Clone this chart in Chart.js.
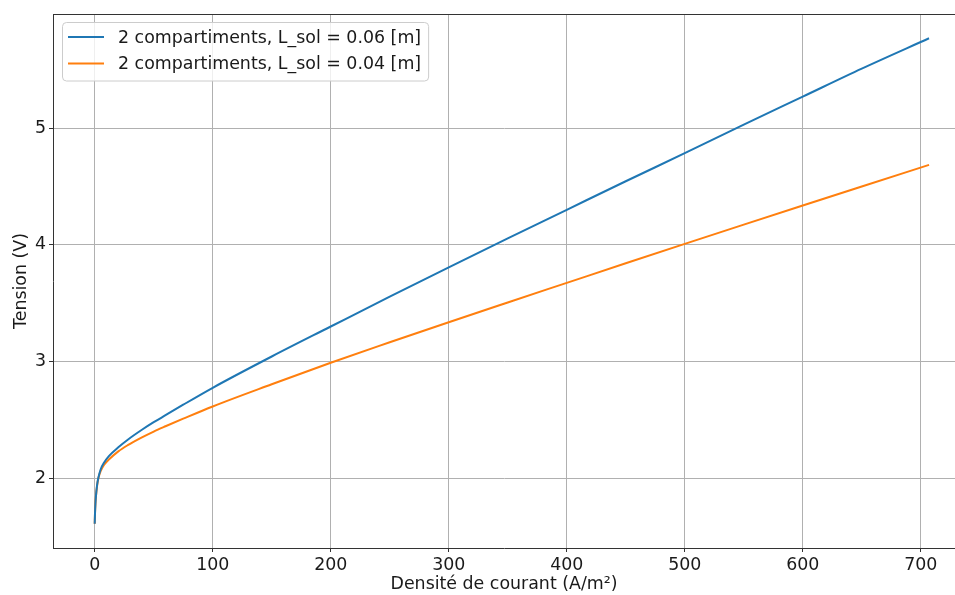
<!DOCTYPE html>
<html>
<head>
<meta charset="utf-8">
<script src="https://cdn.jsdelivr.net/npm/chart.js@4"></script>
<style>
    html, body { margin: 0; padding: 0; background: #ffffff; }
    #wrap { width: 955px; height: 595px; position: relative; }
</style>
</head>
<body>
<div id="wrap"><canvas id="chart"></canvas></div>
<script>
// Valeurs
const current = [0, 0.25, 0.6, 1, 2, 3, 5, 8, 12, 20, 28, 40, 50, 60, 75, 100, 150, 200, 250, 300, 350, 400, 450, 500, 550, 600, 650, 707];
const voltage06 = [1.61, 1.70, 1.78, 1.84, 1.94, 2.00, 2.075, 2.135, 2.19, 2.265, 2.33, 2.415, 2.48, 2.54, 2.63, 2.775, 3.043, 3.30, 3.556, 3.807, 4.055, 4.30, 4.545, 4.785, 5.03, 5.27, 5.51, 5.77];
const voltage04 = [1.61, 1.70, 1.78, 1.84, 1.935, 1.995, 2.06, 2.115, 2.16, 2.23, 2.283, 2.35, 2.40, 2.445, 2.51, 2.615, 2.805, 2.99, 3.165, 3.337, 3.506, 3.674, 3.842, 4.008, 4.173, 4.337, 4.50, 4.685];
const seriesLabels = ['2 compartiments, L_sol = 0.06 [m]', '2 compartiments, L_sol = 0.04 [m]'];
const xTicks = [0, 100, 200, 300, 400, 500, 600, 700];
const yTicks = [2, 3, 4, 5];

const FONT = 'DejaVu Sans';
const FS = 17.4;

// legende et cadre du haut, a la maniere de matplotlib
const framePlugin = {
    id: 'framePlugin',
    afterDraw(chart) {
        const ctx = chart.ctx;
        const area = chart.chartArea;
        ctx.save();
        ctx.strokeStyle = '#333333';
        ctx.lineWidth = 1;
        ctx.beginPath();
        ctx.moveTo(area.left, area.top + 0.5);
        ctx.lineTo(area.right, area.top + 0.5);
        ctx.stroke();

        ctx.font = FS + 'px "' + FONT + '"';
        const sets = chart.data.datasets;
        const textW = Math.max(...sets.map(d => ctx.measureText(d.label).width));
        const x0 = 62.5, y0 = 22.5, rowH = 26.5;
        const w = 55 + textW + 8, h = 58.5;
        ctx.beginPath();
        ctx.roundRect(x0, y0, w, h, 4);
        ctx.fillStyle = 'rgba(255,255,255,0.8)';
        ctx.fill();
        ctx.strokeStyle = '#cccccc';
        ctx.stroke();
        sets.forEach((d, i) => {
            const y = 37 + i * rowH;
            ctx.strokeStyle = d.borderColor;
            ctx.lineWidth = 2;
            ctx.beginPath();
            ctx.moveTo(68, y);
            ctx.lineTo(104, y);
            ctx.stroke();
            ctx.fillStyle = '#1a1a1a';
            ctx.textBaseline = 'middle';
            ctx.fillText(d.label, 118, y + 1);
        });
        ctx.restore();
    }
};

const ctx = document.getElementById('chart').getContext('2d');
new Chart(ctx, {
    type: 'line',
    data: {
        datasets: [{
            label: seriesLabels[0],
            data: current.map((x, i) => ({ x: x, y: voltage06[i] })),
            borderColor: '#1f77b4',
            borderWidth: 2,
            pointRadius: 0,
            cubicInterpolationMode: 'monotone',
            fill: false
        }, {
            label: seriesLabels[1],
            data: current.map((x, i) => ({ x: x, y: voltage04[i] })),
            borderColor: '#ff7f0e',
            borderWidth: 2,
            pointRadius: 0,
            cubicInterpolationMode: 'monotone',
            fill: false
        }]
    },
    options: {
        responsive: true,
        maintainAspectRatio: false,
        animation: false,
        layout: { padding: { left: 0, top: 14, right: 0, bottom: 0 } },
        plugins: {
            legend: { display: false },
            tooltip: { enabled: false }
        },
        scales: {
            x: {
                type: 'linear',
                min: -35.35,
                max: 729,
                afterFit: (scale) => { scale.height = 47; },
                afterBuildTicks: (scale) => { scale.ticks = xTicks.map(v => ({ value: v })); },
                grid: { color: '#b0b0b0', lineWidth: 1, tickColor: '#333333', tickLength: 4 },
                border: { color: '#333333', width: 1 },
                ticks: { color: '#1a1a1a', padding: 3, maxRotation: 0, font: { family: FONT, size: FS } },
                title: {
                    display: true,
                    text: 'Densité de courant (A/m²)',
                    color: '#1a1a1a',
                    font: { family: FONT, size: FS },
                    padding: { top: 0, bottom: 0 }
                }
            },
            y: {
                type: 'linear',
                min: 1.402,
                max: 5.978,
                afterFit: (scale) => { scale.width = 53; },
                afterBuildTicks: (scale) => { scale.ticks = yTicks.map(v => ({ value: v })); },
                grid: { color: '#b0b0b0', lineWidth: 1, tickColor: '#333333', tickLength: 4 },
                border: { color: '#333333', width: 1 },
                ticks: { color: '#1a1a1a', padding: 3, font: { family: FONT, size: FS } },
                title: {
                    display: true,
                    text: 'Tension (V)',
                    color: '#1a1a1a',
                    font: { family: FONT, size: FS },
                    padding: { top: 11, bottom: 0 }
                }
            }
        }
    },
    plugins: [framePlugin]
});
</script>
</body>
</html>
